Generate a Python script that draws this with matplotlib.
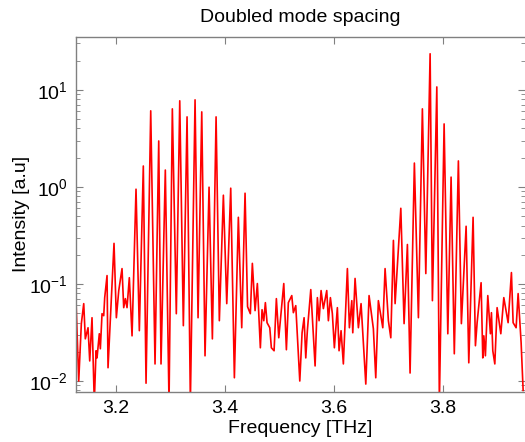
"""Doubled mode spacing spectrum, log intensity vs frequency."""

import numpy as np
import matplotlib
matplotlib.use('Agg')
import matplotlib.pyplot as plt
from matplotlib.ticker import LogLocator, NullFormatter

# values (frequency in THz, intensity in a.u.)
freq = [3.1265, 3.1315, 3.1363, 3.1407, 3.1436, 3.1486, 3.1517, 3.1559,
        3.1601, 3.1633, 3.1651, 3.1693, 3.1712, 3.1743, 3.1774, 3.1792,
        3.1835, 3.1853, 3.1963, 3.2006, 3.2050, 3.2110, 3.2141, 3.2171,
        3.2202, 3.2244, 3.2294, 3.2367, 3.2428, 3.2501, 3.2551, 3.2637,
        3.2716, 3.2784, 3.2826, 3.2905, 3.2973, 3.3034, 3.3107, 3.3170,
        3.3236, 3.3304, 3.3365, 3.3451, 3.3506, 3.3574, 3.3634, 3.3708,
        3.3769, 3.3837, 3.3897, 3.3971, 3.4033, 3.4106, 3.4173, 3.4246,
        3.4308, 3.4369, 3.4415, 3.4466, 3.4503, 3.4553, 3.4595, 3.4650,
        3.4681, 3.4713, 3.4742, 3.4773, 3.4823, 3.4852, 3.4902, 3.4944,
        3.4988, 3.5080, 3.5128, 3.5164, 3.5227, 3.5256, 3.5300, 3.5374,
        3.5416, 3.5453, 3.5484, 3.5513, 3.5576, 3.5655, 3.5697, 3.5728,
        3.5765, 3.5807, 3.5869, 3.5899, 3.5936, 3.5972, 3.6009, 3.6064,
        3.6095, 3.6132, 3.6174, 3.6248, 3.6285, 3.6329, 3.6347, 3.6389,
        3.6450, 3.6499, 3.6586, 3.6646, 3.6725, 3.6769, 3.6817, 3.6898,
        3.6940, 3.7001, 3.7045, 3.7093, 3.7124, 3.7229, 3.7289, 3.7350,
        3.7399, 3.7478, 3.7552, 3.7625, 3.7688, 3.7767, 3.7809, 3.7890,
        3.7937, 3.8024, 3.8092, 3.8152, 3.8211, 3.8286, 3.8341, 3.8428,
        3.8477, 3.8556, 3.8599, 3.8630, 3.8703, 3.8734, 3.8753, 3.8782,
        3.8826, 3.8874, 3.8893, 3.8918, 3.8955, 3.8997, 3.9065, 3.9120,
        3.9199, 3.9260, 3.9291, 3.9346, 3.9383, 3.9438, 3.9475]

intensity = [0.0673, 0.0100, 0.0390, 0.0627, 0.0272, 0.0354, 0.0161, 0.0449,
             0.0060, 0.0205, 0.0173, 0.0307, 0.0215, 0.0494, 0.0471, 0.0723,
             0.122, 0.0137, 0.262, 0.0449, 0.0855, 0.144, 0.0570, 0.0706,
             0.0570, 0.116, 0.0292, 0.947, 0.0330, 1.64, 0.0095, 6.07,
             0.0150, 2.97, 0.0150, 1.49, 0.0060, 6.36, 0.0494, 7.70,
             0.0372, 5.26, 0.0060, 7.88, 0.0449, 5.92, 0.0182, 0.993,
             0.0272, 5.26, 0.0418, 0.821, 0.0627, 0.970, 0.0108, 0.486,
             0.0354, 0.861, 0.0583, 0.0494, 0.163, 0.0531, 0.101, 0.0220,
             0.0543, 0.0418, 0.0642, 0.0399, 0.0354, 0.0220, 0.0205, 0.0706,
             0.0279, 0.101, 0.0210, 0.0642, 0.0759, 0.0506, 0.0598, 0.0100,
             0.0314, 0.0449, 0.0173, 0.0330, 0.0875, 0.0143, 0.0723, 0.0418,
             0.0855, 0.0557, 0.0855, 0.0418, 0.0723, 0.0494, 0.0220, 0.0570,
             0.0205, 0.0330, 0.0150, 0.144, 0.0354, 0.0673, 0.0314, 0.114,
             0.0354, 0.0627, 0.0093, 0.0759, 0.0346, 0.0108, 0.0673, 0.0354,
             0.144, 0.0418, 0.0279, 0.281, 0.0627, 0.602, 0.0390, 0.255,
             0.0121, 1.76, 0.0449, 6.36, 0.128, 23.5, 0.0673, 10.7,
             0.0060, 4.45, 0.0307, 1.26, 0.0191, 1.85, 0.0390, 0.393,
             0.0154, 0.486, 0.0231, 0.0399, 0.103, 0.0173, 0.0292, 0.0182,
             0.0759, 0.0307, 0.0506, 0.0205, 0.0150, 0.0570, 0.0307, 0.0723,
             0.0399, 0.131, 0.0399, 0.0354, 0.0796, 0.0248, 0.0080]

xticks = [3.2, 3.4, 3.6, 3.8]

plt.rcParams['font.family'] = ['Liberation Sans', 'DejaVu Sans']
plt.rcParams['mathtext.fontset'] = 'custom'
plt.rcParams['mathtext.rm'] = 'Liberation Sans'
plt.rcParams['mathtext.it'] = 'Liberation Sans:italic'
plt.rcParams['mathtext.bf'] = 'Liberation Sans:bold'

fig = plt.figure(figsize=(5.25, 4.42), dpi=100)
ax = fig.add_axes([76 / 525, 1 - 391.5 / 442, 448.5 / 525, 354.5 / 442])

ax.plot(freq, intensity, color='#ff0000', lw=1.2)
ax.set_yscale('log')
ax.set_xlim(3.1265, 3.950)
ax.set_ylim(0.0078, 35)
ax.set_xticks(xticks)
ax.set_xticklabels(['3.2', '3.4', '3.6', '3.8'])
ax.yaxis.set_major_locator(LogLocator(base=10, numticks=10))
ax.yaxis.set_minor_locator(LogLocator(base=10, subs=np.arange(2, 10), numticks=10))
ax.yaxis.set_minor_formatter(NullFormatter())

gray = '#808080'
for side in ['left', 'bottom', 'top']:
    ax.spines[side].set_color(gray)
    ax.spines[side].set_linewidth(1.0)
ax.spines['right'].set_visible(False)

ax.tick_params(which='both', direction='in', top=True, right=True,
               color=gray, labelsize=14, labelcolor='black')
ax.tick_params(which='major', length=5, width=0.8, pad=6)
ax.tick_params(which='minor', length=3, width=0.6)

ax.set_title('Doubled mode spacing', fontsize=14, pad=11)
ax.set_xlabel('Frequency [THz]', fontsize=14, labelpad=2)
ax.set_ylabel('Intensity [a.u]', fontsize=14, labelpad=-1)

fig.savefig('out.png', dpi=100)
